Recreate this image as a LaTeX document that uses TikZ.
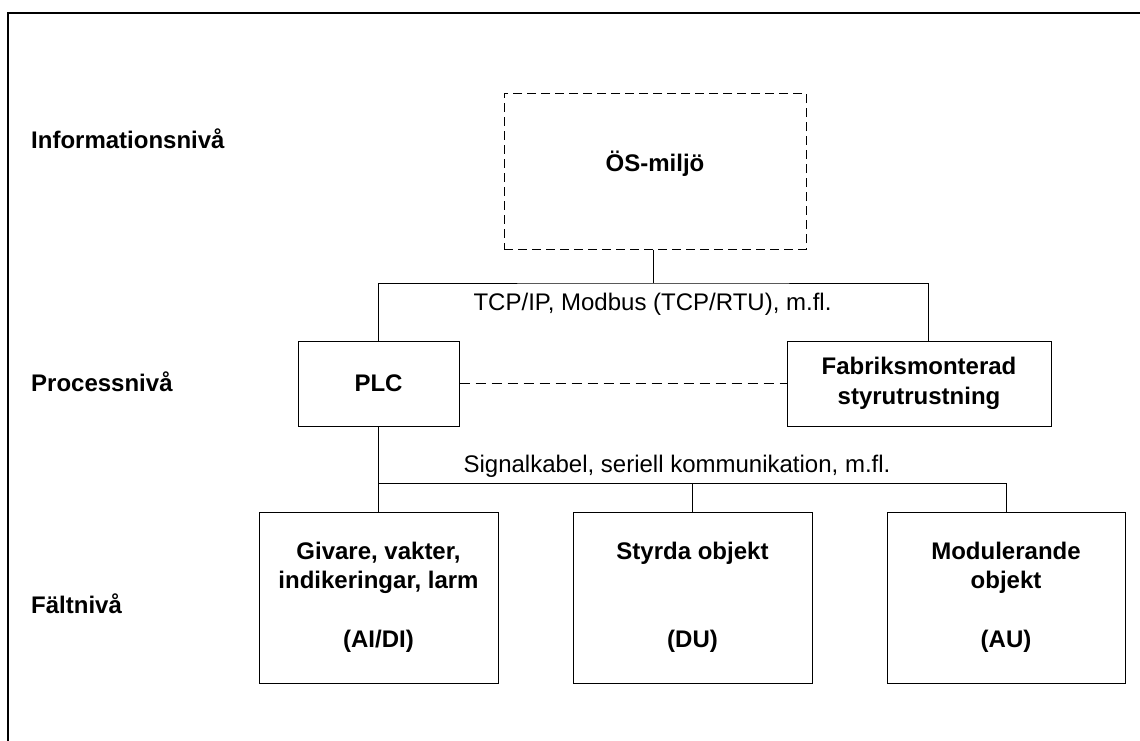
\documentclass[tikz,border=0pt]{standalone}
\usepackage{fontspec}
\setmainfont{Liberation Sans}
\begin{document}
\begin{tikzpicture}[x=1pt,y=-1pt,
  boxstyle/.style={draw=black,line width=1pt,inner sep=0pt,align=center,
    font={\fontsize{24}{29.5}\selectfont\bfseries}},
  lvl/.style={anchor=base west,inner sep=0pt,font={\fontsize{24}{29.5}\selectfont\bfseries}},
  lbl/.style={anchor=base,inner sep=0pt,font={\fontsize{24}{29.5}\selectfont}},
  conn/.style={line width=1pt},
  dashconn/.style={line width=1pt,dash pattern=on 10pt off 6pt}]
\useasboundingbox (0,0) rectangle (1140,740);
\clip (0,0) rectangle (1140,740);
% outer frame
\draw[line width=1.6pt] (8,760) -- (8,13) -- (1160,13);
% level labels
\node[lvl] (linfo) at (31,148) {Informationsnivå};
\node[lvl] (lproc) at (31,391) {Processnivå};
\node[lvl] (lfalt) at (31,613) {Fältnivå};
% boxes
\node[boxstyle,dash pattern=on 9pt off 5pt,minimum width=302pt,minimum height=156pt] (os) at (655,171) {};
\node[inner sep=0pt,font={\fontsize{24}{29.5}\selectfont\bfseries}] (ostext) at (655,164) {ÖS-miljö};
\node[boxstyle,minimum width=161pt,minimum height=85pt] (plc) at (378.5,383.5) {PLC};
\node[boxstyle,minimum width=264pt,minimum height=85pt] (fab) at (919,383.5) {Fabriksmonterad\\styrutrustning};
\node[boxstyle,minimum width=239pt,minimum height=171pt] (giv) at (378.5,597.5) {Givare, vakter,\\indikeringar, larm\\\mbox{}\\(AI/DI)};
\node[boxstyle,minimum width=239pt,minimum height=171pt] (sty) at (692.5,597.5) {Styrda objekt\\\mbox{}\\\mbox{}\\(DU)};
\node[boxstyle,minimum width=238pt,minimum height=171pt] (mod) at (1006,597.5) {Modulerande\\objekt\\\mbox{}\\(AU)};
% bus coordinates
\coordinate (bus1) at (653,283);
\coordinate (bus2) at (379,483);
% connectors
\draw[conn] ([xshift=-2pt]os.south) -- (bus1);
\draw[conn] (plc.north) |- (bus1) -| ([xshift=9pt]fab.north);
\draw[dashconn] (plc.east) -- (fab.west);
\draw[conn] (plc.south) -- (giv.north);
\draw[conn] (bus2) -| (mod.north);
\draw[conn] (sty.north) -- (sty.north |- bus2);
% connector labels
\node[lbl] (tcp) at (652.5,310) {TCP/IP, Modbus (TCP/RTU), m.fl.};
\node[lbl] (sig) at (677,472) {Signalkabel, seriell kommunikation, m.fl.};
\end{tikzpicture}
\end{document}
